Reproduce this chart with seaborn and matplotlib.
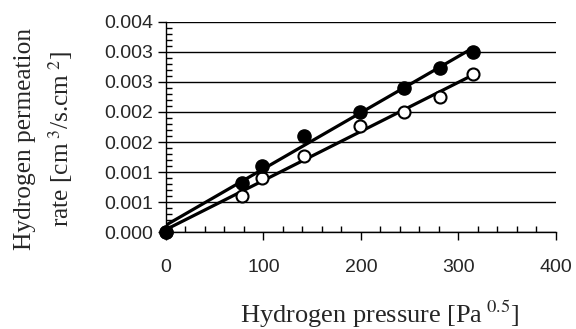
import numpy as np
import pandas as pd
import matplotlib
matplotlib.use("Agg")
import matplotlib.pyplot as plt
import seaborn as sns
from matplotlib.ticker import MultipleLocator, FixedLocator, FixedFormatter

pressure = [0, 78, 99, 142, 199, 244, 281, 315]
rate_filled = [0.00001, 0.000814, 0.001106, 0.001605, 0.001998, 0.002392, 0.002729, 0.00299]
rate_open = [0.00001, 0.000603, 0.000907, 0.001272, 0.001766, 0.001998, 0.002252, 0.00263]
ytick_vals = [0, 0.0005, 0.001, 0.0015, 0.002, 0.0025, 0.003, 0.0035]
ytick_labels = ["0.000", "0.001", "0.001", "0.002", "0.002", "0.003", "0.003", "0.004"]
xtick_vals = [0, 100, 200, 300, 400]

sns.set_style("white")
plt.rcParams["mathtext.fontset"] = "stix"

df = pd.DataFrame({"p": pressure, "f": rate_filled, "o": rate_open})

fig = plt.figure(figsize=(5.76, 3.29), dpi=100)
ax = fig.add_axes([0.288, 0.294, 0.677, 0.640])

for y in ytick_vals:
    ax.axhline(y, color="black", lw=1.0, zorder=0)

sns.regplot(data=df, x="p", y="f", ci=None, ax=ax, truncate=True,
            scatter_kws=dict(s=90, color="black", edgecolor="black", alpha=1,
                             zorder=4, clip_on=False),
            line_kws=dict(color="black", lw=2.3, zorder=3))
sns.regplot(data=df, x="p", y="o", ci=None, ax=ax, truncate=True,
            marker="o",
            scatter_kws=dict(s=75, facecolors="white", edgecolors="black", linewidths=1.5,
                             alpha=1, zorder=4, clip_on=False),
            line_kws=dict(color="black", lw=2.3, zorder=3))
ax.collections[0].set_zorder(5)

ax.set_xlim(0, 400)
ax.set_ylim(0, 0.0035)
ax.xaxis.set_major_locator(FixedLocator(xtick_vals))
ax.xaxis.set_minor_locator(MultipleLocator(20))
ax.yaxis.set_major_locator(FixedLocator(ytick_vals))
ax.yaxis.set_major_formatter(FixedFormatter(ytick_labels))
ax.yaxis.set_minor_locator(MultipleLocator(0.0001))
ax.tick_params(which="major", direction="out", length=6, width=1, color="black",
               labelsize=14, pad=3, bottom=True, left=True)
ax.tick_params(axis="x", which="major", pad=13)
ax.tick_params(which="minor", direction="in", length=4, width=1, color="black",
               bottom=True, left=True)
for lab in ax.get_xticklabels() + ax.get_yticklabels():
    lab.set_fontfamily("Liberation Sans")

for s in ["top", "right"]:
    ax.spines[s].set_visible(False)
for s in ["left", "bottom"]:
    ax.spines[s].set_color("black")
    ax.spines[s].set_linewidth(1.0)

ax.set_xlabel("Hydrogen pressure [Pa$^{\\ 0.5}$]", fontfamily="Liberation Serif",
              fontsize=19)
ax.xaxis.set_label_coords(0.549, -0.318)
ax.set_ylabel("Hydrogen permeation\nrate [cm$^{\\ 3}$/s.cm$^{\\ 2}$]", fontfamily="Liberation Serif",
              fontsize=18.3, linespacing=1.45)
ax.yaxis.set_label_coords(-0.233, 0.443)

fig.savefig("out.png", dpi=100)
